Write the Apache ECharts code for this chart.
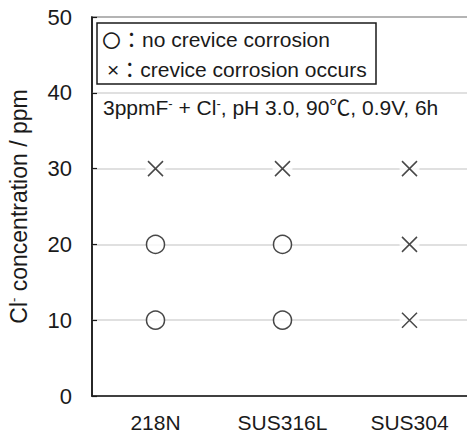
<!DOCTYPE html>
<html>
<head>
<meta charset="utf-8">
<script src="https://cdn.jsdelivr.net/npm/echarts@6/dist/echarts.min.js"></script>
<style>
  html, body { margin: 0; padding: 0; background: #fff; }
  #chart { width: 467px; height: 434px; }
</style>
</head>
<body>
<div id="chart"></div>
<script>
"use strict"

const categories = ["218N", "SUS316L", "SUS304"]
const yTicks = [0, 10, 20, 30, 40, 50]
// points with no crevice corrosion (circles)
const noCorrosionCat = ["218N", "218N", "SUS316L", "SUS316L"]
const noCorrosionVal = [10, 20, 10, 20]
// points where crevice corrosion occurs (crosses)
const corrosionCat = ["218N", "SUS316L", "SUS304", "SUS304", "SUS304"]
const corrosionVal = [30, 30, 10, 20, 30]

const FONT = "'Liberation Sans', Arial, 'Noto Sans CJK JP', sans-serif"
const INK = "#1a1a1a"

const toPairs = (cats, vals) => cats.map((c, i) => [c, vals[i]])

const chart = echarts.init(document.getElementById("chart"), null, {
  renderer: "svg",
})

const option = {
  animation: false,
  backgroundColor: "#fff",
  grid: {
    left: 92,
    top: 17,
    width: 381,
    height: 379,
    outerBoundsMode: "none",
    containLabel: false,
    show: true,
    borderColor: INK,
    borderWidth: 1.5,
  },
  xAxis: {
    type: "category",
    data: categories,
    boundaryGap: true,
    axisLine: { lineStyle: { color: INK, width: 1.5 } },
    axisTick: { inside: true, length: 5, lineStyle: { color: INK, width: 1.2 } },
    axisLabel: { color: INK, fontSize: 21, lineHeight: 21, fontFamily: FONT, margin: 16 },
    splitLine: { show: false },
  },
  yAxis: {
    type: "value",
    min: yTicks[0],
    max: yTicks[yTicks.length - 1],
    interval: 10,
    name: "Cl{sup|-} concentration / ppm",
    nameLocation: "middle",
    nameGap: 62,
    nameTextStyle: {
      color: INK,
      fontSize: 23,
      fontFamily: FONT,
      rich: {
        sup: { fontSize: 13, fontFamily: FONT, color: INK, verticalAlign: "top", lineHeight: 23 },
      },
    },
    axisLine: { show: true, lineStyle: { color: INK, width: 1.5 } },
    axisTick: { show: true, inside: true, length: 5, lineStyle: { color: INK, width: 1.2 } },
    axisLabel: { color: INK, fontSize: 22, fontFamily: FONT, margin: 20 },
    splitLine: { show: true, lineStyle: { color: "#d6d6d6", width: 1.5 } },
  },
  graphic: [
    {
      type: "rect",
      shape: { x: 97, y: 23, width: 279, height: 61 },
      style: { fill: "#fff", stroke: INK, lineWidth: 1.5 },
      z: 10,
    },
    {
      type: "text",
      x: 100,
      y: 39,
      style: { text: "○", font: "38px " + FONT, fill: INK, verticalAlign: "middle" },
      z: 11,
    },
    {
      type: "text",
      x: 121,
      y: 39,
      style: {
        text: "：no crevice corrosion",
        font: "21px " + FONT,
        fill: INK,
        verticalAlign: "middle",
      },
      z: 11,
    },
    {
      type: "text",
      x: 107,
      y: 69,
      style: {
        text: "×：crevice corrosion occurs",
        font: "21px " + FONT,
        fill: INK,
        verticalAlign: "middle",
      },
      z: 11,
    },
    {
      type: "text",
      x: 103,
      y: 107,
      style: {
        text: "3ppmF{sup|-} + Cl{sup|-}, pH 3.0, 90℃, 0.9V, 6h",
        fontSize: 21,
        fontFamily: FONT,
        fill: INK,
        verticalAlign: "middle",
        rich: {
          sup: { fontSize: 13, fontFamily: FONT, fill: INK, verticalAlign: "top", lineHeight: 21 },
        },
      },
      z: 11,
    },
  ],
  series: [
    {
      type: "scatter",
      data: toPairs(corrosionCat, corrosionVal),
      symbol: "circle",
      symbolSize: 20,
      itemStyle: { color: "#fff", borderWidth: 0 },
      z: 2,
      silent: true,
    },
    {
      type: "scatter",
      data: toPairs(noCorrosionCat, noCorrosionVal),
      symbol: "circle",
      symbolSize: 18,
      itemStyle: { color: "#fff", borderColor: INK, borderWidth: 1.5 },
      z: 3,
    },
    {
      type: "scatter",
      data: toPairs(corrosionCat, corrosionVal),
      symbol: "path://M0,0L10,10M10,0L0,10",
      symbolSize: 15,
      itemStyle: { color: "none", borderColor: INK, borderWidth: 1.5 },
      z: 3,
    },
  ],
}

chart.setOption(option)
</script>
</body>
</html>
